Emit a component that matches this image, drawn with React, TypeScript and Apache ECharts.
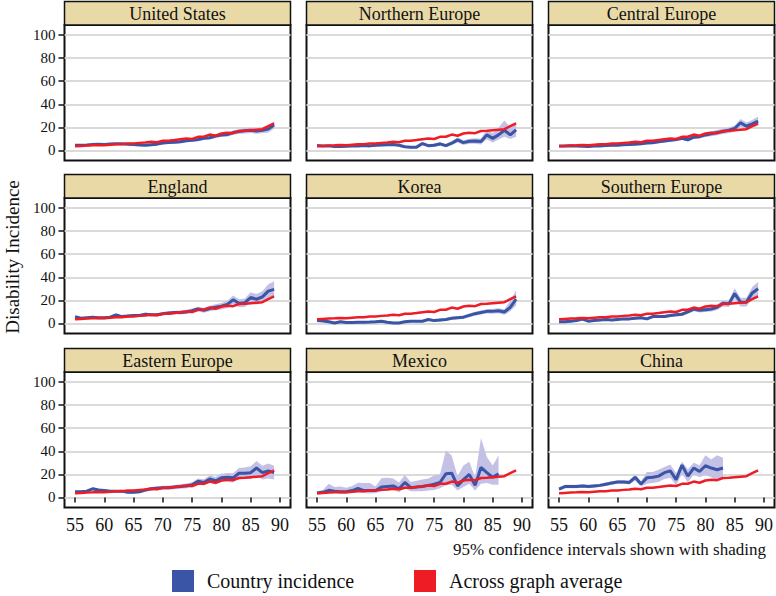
import React, { useEffect, useRef } from "react";
import * as echarts from "echarts";

// ---------- data ----------
const ages = [55, 56, 57, 58, 59, 60, 61, 62, 63, 64, 65, 66, 67, 68, 69, 70, 71, 72, 73, 74, 75, 76, 77, 78, 79, 80, 81, 82, 83, 84, 85, 86, 87, 88, 89];
const yTicks = [0, 20, 40, 60, 80, 100];
const xTicks = [55, 60, 65, 70, 75, 80, 85, 90];

const panelNames = ["United States", "Northern Europe", "Central Europe", "England", "Korea", "Southern Europe", "Eastern Europe", "Mexico", "China"];

const acrossAverage = [3.7, 4.0, 4.3, 4.5, 4.8, 4.6, 5.0, 5.4, 5.5, 6.0, 6.0, 6.6, 7.0, 7.6, 7.2, 8.4, 8.5, 9.0, 9.8, 10.4, 10.0, 11.8, 11.9, 13.8, 12.8, 14.7, 15.3, 15.0, 16.9, 17.0, 17.5, 18.0, 18.5, 21.0, 23.5];

const usIncidence = [4.5, 4.5, 4.8, 5.2, 5.5, 5.3, 5.6, 5.8, 5.8, 5.5, 5.2, 4.8, 4.5, 5.0, 5.5, 6.5, 7.0, 7.2, 7.5, 8.5, 8.8, 9.5, 10.5, 11.0, 12.5, 13.5, 13.8, 15.5, 16.5, 17.0, 17.5, 16.8, 17.5, 18.5, 22.0];
const usLow = [3.5, 3.6, 3.9, 4.3, 4.6, 4.4, 4.7, 4.9, 4.9, 4.6, 4.2, 3.8, 3.5, 4.0, 4.4, 5.4, 5.9, 6.0, 6.3, 7.2, 7.5, 8.1, 9.0, 9.5, 10.9, 11.8, 12.0, 13.6, 14.5, 14.8, 15.2, 14.4, 14.9, 15.6, 18.8];
const usHigh = [5.5, 5.4, 5.7, 6.1, 6.4, 6.2, 6.5, 6.7, 6.7, 6.4, 6.2, 5.8, 5.5, 6.0, 6.6, 7.6, 8.1, 8.4, 8.7, 9.8, 10.1, 10.9, 12.0, 12.5, 14.1, 15.2, 15.6, 17.4, 18.5, 19.2, 19.8, 19.2, 20.1, 21.4, 25.2];

const neIncidence = [4.3, 4.0, 4.0, 3.5, 3.4, 3.6, 3.8, 4.0, 4.3, 4.0, 4.5, 4.8, 5.0, 5.2, 4.5, 3.2, 2.8, 2.9, 6.0, 4.2, 4.6, 5.7, 4.2, 6.3, 9.2, 6.8, 8.0, 8.2, 7.8, 13.5, 10.5, 13.5, 17.5, 13.5, 17.8];
const neLow = [3.3, 3.1, 3.1, 2.7, 2.6, 2.8, 3.0, 3.1, 3.4, 3.1, 3.5, 3.7, 3.8, 4.0, 3.3, 2.2, 1.8, 1.9, 4.5, 2.9, 3.2, 4.1, 2.8, 4.5, 7.0, 4.8, 5.8, 5.8, 5.3, 9.8, 7.0, 9.5, 12.0, 10.0, 12.0];
const neHigh = [5.3, 4.9, 4.9, 4.3, 4.2, 4.4, 4.6, 4.9, 5.2, 4.9, 5.5, 5.9, 6.2, 6.4, 5.7, 4.2, 3.8, 3.9, 7.5, 5.5, 6.0, 7.3, 5.6, 8.1, 11.4, 8.8, 10.2, 10.6, 10.3, 18.0, 15.0, 20.0, 26.0, 20.0, 25.0];

const ceIncidence = [4.0, 4.0, 4.2, 3.8, 3.6, 3.5, 3.8, 4.0, 4.3, 4.5, 4.6, 5.0, 5.2, 5.5, 5.8, 6.5, 6.8, 7.5, 8.2, 8.8, 9.5, 10.5, 9.3, 11.5, 12.0, 13.5, 14.5, 15.5, 16.5, 17.5, 19.0, 24.0, 21.0, 23.0, 25.5];
const ceLow = [3.2, 3.2, 3.4, 3.0, 2.8, 2.7, 3.0, 3.2, 3.5, 3.6, 3.7, 4.1, 4.3, 4.5, 4.8, 5.4, 5.7, 6.3, 7.0, 7.5, 8.1, 9.0, 7.8, 9.9, 10.3, 11.6, 12.4, 13.3, 14.2, 15.0, 16.3, 20.8, 17.8, 19.5, 21.5];
const ceHigh = [4.8, 4.8, 5.0, 4.6, 4.4, 4.3, 4.6, 4.8, 5.1, 5.4, 5.5, 5.9, 6.1, 6.5, 6.8, 7.6, 7.9, 8.7, 9.4, 10.1, 10.9, 12.0, 10.8, 13.1, 13.7, 15.4, 16.6, 17.7, 18.8, 20.0, 21.7, 27.2, 24.2, 26.5, 29.5];

const enIncidence = [5.8, 4.5, 5.0, 5.5, 5.0, 5.0, 5.5, 7.5, 6.0, 6.5, 7.0, 7.0, 8.0, 7.5, 7.5, 8.5, 9.0, 9.5, 9.5, 10.0, 11.0, 12.5, 11.5, 13.0, 14.0, 15.0, 16.5, 20.5, 17.5, 18.0, 22.5, 21.0, 23.0, 28.0, 29.5];
const enLow = [4.8, 3.6, 4.1, 4.5, 4.1, 4.1, 4.5, 6.3, 5.0, 5.4, 5.8, 5.8, 6.7, 6.2, 6.2, 7.1, 7.5, 7.9, 7.8, 8.2, 9.1, 10.4, 9.4, 10.6, 11.4, 12.2, 13.4, 16.8, 14.0, 14.3, 18.0, 16.5, 18.0, 22.0, 23.0];
const enHigh = [6.8, 5.4, 5.9, 6.5, 5.9, 5.9, 6.5, 8.7, 7.0, 7.6, 8.2, 8.2, 9.3, 8.8, 8.8, 9.9, 10.5, 11.1, 11.2, 11.8, 12.9, 14.6, 13.6, 15.4, 16.6, 17.8, 19.6, 24.2, 21.0, 21.7, 27.0, 25.5, 28.0, 34.0, 36.5];

const koIncidence = [2.5, 2.2, 1.5, 0.5, 1.5, 0.8, 0.8, 1.0, 1.0, 1.2, 1.5, 2.0, 1.0, 0.5, 0.5, 1.5, 2.0, 2.0, 2.0, 3.5, 2.5, 3.0, 3.5, 4.5, 5.0, 5.5, 7.0, 8.5, 9.5, 10.5, 10.5, 11.0, 10.0, 14.0, 21.0];
const koLow = [1.5, 1.2, 0.5, -0.5, 0.5, -0.2, -0.2, 0.0, 0.0, 0.2, 0.5, 1.0, 0.0, -0.5, -0.5, 0.5, 1.0, 1.0, 1.0, 2.4, 1.4, 1.8, 2.3, 3.2, 3.6, 4.0, 5.4, 6.8, 7.7, 8.6, 8.4, 8.8, 7.6, 10.5, 15.5];
const koHigh = [3.5, 3.2, 2.5, 1.5, 2.5, 1.8, 1.8, 2.0, 2.0, 2.2, 2.5, 3.0, 2.0, 1.5, 1.5, 2.5, 3.0, 3.0, 3.0, 4.6, 3.6, 4.2, 4.7, 5.8, 6.4, 7.0, 8.6, 10.2, 11.3, 12.4, 12.6, 13.2, 12.4, 19.5, 29.0];

const seIncidence = [1.5, 1.5, 2.0, 2.5, 3.8, 2.0, 2.5, 3.0, 3.5, 3.0, 3.5, 4.0, 4.0, 4.5, 5.0, 4.0, 6.0, 6.0, 6.0, 7.0, 7.5, 8.0, 10.0, 12.5, 11.5, 12.0, 12.5, 14.0, 17.5, 17.0, 26.0, 18.5, 18.5, 26.5, 30.0];
const seLow = [0.5, 0.5, 1.0, 1.5, 2.5, 1.0, 1.5, 2.0, 2.4, 2.0, 2.4, 2.9, 2.9, 3.3, 3.8, 2.9, 4.7, 4.7, 4.7, 5.6, 6.0, 6.4, 8.4, 10.5, 9.5, 9.9, 10.3, 11.6, 14.8, 14.2, 21.5, 14.8, 14.8, 21.5, 24.0];
const seHigh = [2.5, 2.5, 3.0, 3.5, 5.1, 3.0, 3.5, 4.0, 4.6, 4.0, 4.6, 5.1, 5.1, 5.7, 6.2, 5.1, 7.3, 7.3, 7.3, 8.4, 9.0, 9.6, 11.6, 14.5, 13.5, 14.1, 14.7, 16.4, 20.2, 19.8, 30.5, 22.2, 22.2, 31.5, 36.0];

const eeIncidence = [5.0, 5.0, 5.5, 7.5, 6.5, 6.0, 5.5, 5.5, 5.5, 4.5, 4.5, 5.0, 6.5, 7.5, 8.0, 8.5, 8.5, 9.0, 9.5, 10.0, 11.0, 14.0, 13.0, 16.0, 14.5, 17.0, 17.5, 17.0, 21.0, 21.0, 21.5, 25.5, 21.5, 23.0, 21.5];
const eeLow = [4.0, 4.0, 4.4, 6.2, 5.3, 4.9, 4.4, 4.4, 4.3, 3.2, 3.2, 3.7, 5.0, 5.9, 6.3, 6.8, 6.7, 7.1, 7.5, 7.9, 8.7, 11.5, 10.3, 12.9, 11.3, 13.5, 13.8, 13.0, 16.5, 16.0, 16.0, 19.5, 15.5, 16.5, 15.5];
const eeHigh = [6.0, 6.0, 6.6, 8.8, 7.7, 7.1, 6.6, 6.6, 6.7, 5.8, 5.8, 6.3, 8.0, 9.1, 9.7, 10.2, 10.3, 10.9, 11.5, 12.1, 13.3, 16.5, 15.7, 19.1, 17.7, 20.5, 21.2, 21.0, 25.5, 26.0, 27.0, 31.5, 27.5, 29.5, 27.5];

const mxIncidence = [3.8, 4.5, 6.2, 5.5, 5.0, 5.0, 6.0, 7.8, 6.0, 6.0, 6.0, 9.0, 9.5, 10.0, 7.5, 13.0, 8.5, 9.0, 9.5, 10.5, 11.5, 13.0, 20.5, 21.0, 10.0, 15.5, 20.0, 10.5, 26.0, 21.5, 17.5, 20.5];
const mxLow = [3.0, 3.5, 4.0, 4.0, 3.5, 3.5, 4.0, 5.0, 4.0, 3.5, 4.0, 5.5, 6.0, 6.5, 4.5, 8.0, 5.5, 5.5, 5.5, 6.0, 6.5, 8.0, 10.5, 11.0, 6.0, 9.0, 12.0, 6.0, 12.0, 12.5, 11.0, 11.0];
const mxHigh = [5.5, 6.5, 12.0, 9.0, 9.5, 8.5, 10.0, 12.8, 12.5, 12.5, 9.5, 16.6, 17.0, 16.5, 13.0, 19.5, 13.5, 14.5, 15.5, 16.5, 19.0, 20.0, 40.8, 36.4, 18.4, 27.7, 31.0, 17.5, 51.6, 35.0, 27.7, 36.4];

const cnIncidence = [7.3, 9.5, 9.5, 9.5, 10.0, 9.5, 10.0, 10.5, 11.5, 12.5, 13.5, 13.5, 13.0, 17.5, 11.7, 17.0, 17.5, 18.5, 21.5, 23.0, 15.5, 28.0, 18.5, 25.5, 22.5, 27.5, 25.5, 24.0, 25.5];
const cnLow = [5.8, 8.0, 8.0, 8.0, 8.5, 8.0, 8.5, 9.0, 10.0, 11.0, 12.0, 12.0, 11.2, 14.5, 9.5, 12.0, 12.5, 13.5, 16.0, 17.0, 10.5, 20.5, 13.0, 20.0, 17.5, 19.5, 17.5, 14.5, 17.5];
const cnHigh = [8.8, 11.0, 11.0, 11.0, 11.5, 11.0, 11.5, 12.0, 13.0, 14.0, 15.0, 15.0, 14.8, 20.0, 14.0, 22.0, 22.0, 24.0, 26.5, 28.5, 21.0, 31.0, 24.5, 30.0, 28.0, 36.5, 33.0, 36.5, 34.5];

const incidenceSets = [usIncidence, neIncidence, ceIncidence, enIncidence, koIncidence, seIncidence, eeIncidence, mxIncidence, cnIncidence];
const lowSets = [usLow, neLow, ceLow, enLow, koLow, seLow, eeLow, mxLow, cnLow];
const highSets = [usHigh, neHigh, ceHigh, enHigh, koHigh, seHigh, eeHigh, mxHigh, cnHigh];

// ---------- styling / layout ----------
const FONT = "Liberation Serif, Times New Roman, serif";
const BLUE = "#3A55A6";
const RED = "#EE1D25";
const BAND = "#C3C1E6";
const HEADER_FILL = "#E9D9A7";
const colLeft = [64.5, 306.5, 548.5];
const panelW = 226;
const rowTop = [1.5, 174.5, 348.5];
const headerH = 23.5;
const frameH = 135.5;

function pairs(vals: number[]) {
  return vals.map((v, i) => [ages[i], v]);
}

export default function App() {
  const ref = useRef<HTMLDivElement>(null);
  useEffect(() => {
    const chart = echarts.init(ref.current!, null, { renderer: "svg" });
    const grids: any[] = [];
    const xAxes: any[] = [];
    const yAxes: any[] = [];
    const series: any[] = [];
    const graphics: any[] = [];

    panelNames.forEach((name, i) => {
      const r = Math.floor(i / 3);
      const c = i % 3;
      const left = colLeft[c];
      const top = rowTop[r];
      grids.push({
        left,
        top: top + headerH,
        width: panelW,
        height: frameH,
        show: true,
        backgroundColor: "#ffffff",
        borderColor: "#111111",
        borderWidth: 2,
        containLabel: false,
      });
      xAxes.push({
        type: "value",
        gridIndex: i,
        min: 53.2,
        max: 91.8,
        axisLine: { show: false },
        splitLine: { show: false },
        axisTick: { show: r === 2, length: 5, lineStyle: { color: "#111", width: 1.5 }, customValues: xTicks },
        axisLabel: { show: r === 2, customValues: xTicks, fontFamily: FONT, fontSize: 18, color: "#111", margin: 8 },
      });
      yAxes.push({
        type: "value",
        gridIndex: i,
        min: -8.66,
        max: 108.66,
        axisLine: { show: false },
        splitLine: { show: true, lineStyle: { color: "#DADADA", width: 2 } },
        axisTick: { show: c === 0, length: 6, lineStyle: { color: "#111", width: 1.5 }, customValues: yTicks },
        axisLabel: { show: c === 0, customValues: yTicks, fontFamily: FONT, fontSize: 15, color: "#111", margin: 9 },
      });
      const lo = lowSets[i];
      const hi = highSets[i];
      series.push({
        type: "custom",
        name: "95% CI",
        xAxisIndex: i,
        yAxisIndex: i,
        silent: true,
        data: [[ages[0], lo[0]]],
        renderItem: (params: any, api: any) => {
          const pts: number[][] = [];
          for (let k = 0; k < lo.length; k++) pts.push(api.coord([ages[k], lo[k]]));
          for (let k = hi.length - 1; k >= 0; k--) pts.push(api.coord([ages[k], hi[k]]));
          return {
            type: "polygon",
            shape: { points: pts },
            style: { fill: BAND, stroke: "none" },
            silent: true,
          };
        },
      });
      series.push({
        type: "line",
        name: "Country incidence",
        xAxisIndex: i,
        yAxisIndex: i,
        data: pairs(incidenceSets[i]),
        symbol: "none",
        lineStyle: { color: BLUE, width: 3 },
        itemStyle: { color: BLUE },
      });
      series.push({
        type: "line",
        name: "Across graph average",
        xAxisIndex: i,
        yAxisIndex: i,
        data: pairs(acrossAverage),
        symbol: "none",
        lineStyle: { color: RED, width: 2.5 },
        itemStyle: { color: RED },
      });
      graphics.push({
        type: "rect",
        shape: { x: left, y: top, width: panelW, height: headerH },
        style: { fill: HEADER_FILL, stroke: "#111", lineWidth: 1.5 },
        z: 10,
      });
      graphics.push({
        type: "text",
        x: left + panelW / 2,
        y: top + headerH / 2 + 0.5,
        style: {
          text: name,
          fill: "#111",
          font: `18px ${FONT}`,
          textAlign: "center",
          textVerticalAlign: "middle",
          verticalAlign: "middle",
        },
        z: 11,
      });
    });

    graphics.push({
      type: "text",
      x: 12,
      y: 257,
      rotation: Math.PI / 2,
      style: {
        text: "Disability Incidence",
        fill: "#111",
        font: `19px ${FONT}`,
        textAlign: "center",
        textVerticalAlign: "middle",
        verticalAlign: "middle",
      },
    });
    graphics.push({
      type: "text",
      x: 766,
      y: 549,
      style: {
        text: "95% confidence intervals shown with shading",
        fill: "#111",
        font: `17px ${FONT}`,
        textAlign: "right",
        textVerticalAlign: "middle",
        verticalAlign: "middle",
      },
    });
    const legendItems = [
      { label: "Country incidence", color: BLUE, x: 172 },
      { label: "Across graph average", color: RED, x: 414 },
    ];
    legendItems.forEach((it) => {
      graphics.push({
        type: "rect",
        shape: { x: it.x, y: 570, width: 22, height: 22 },
        style: { fill: it.color },
      });
      graphics.push({
        type: "text",
        x: it.x + 35,
        y: 581,
        style: {
          text: it.label,
          fill: "#111",
          font: `20px ${FONT}`,
          textAlign: "left",
          textVerticalAlign: "middle",
          verticalAlign: "middle",
        },
      });
    });

    chart.setOption({
      animation: false,
      backgroundColor: "#ffffff",
      grid: grids,
      xAxis: xAxes,
      yAxis: yAxes,
      series,
      graphic: graphics,
    });
    return () => chart.dispose();
  }, []);
  return <div ref={ref} style={{ position: "absolute", left: 0, top: 0, width: 776, height: 596 }} />;
}
